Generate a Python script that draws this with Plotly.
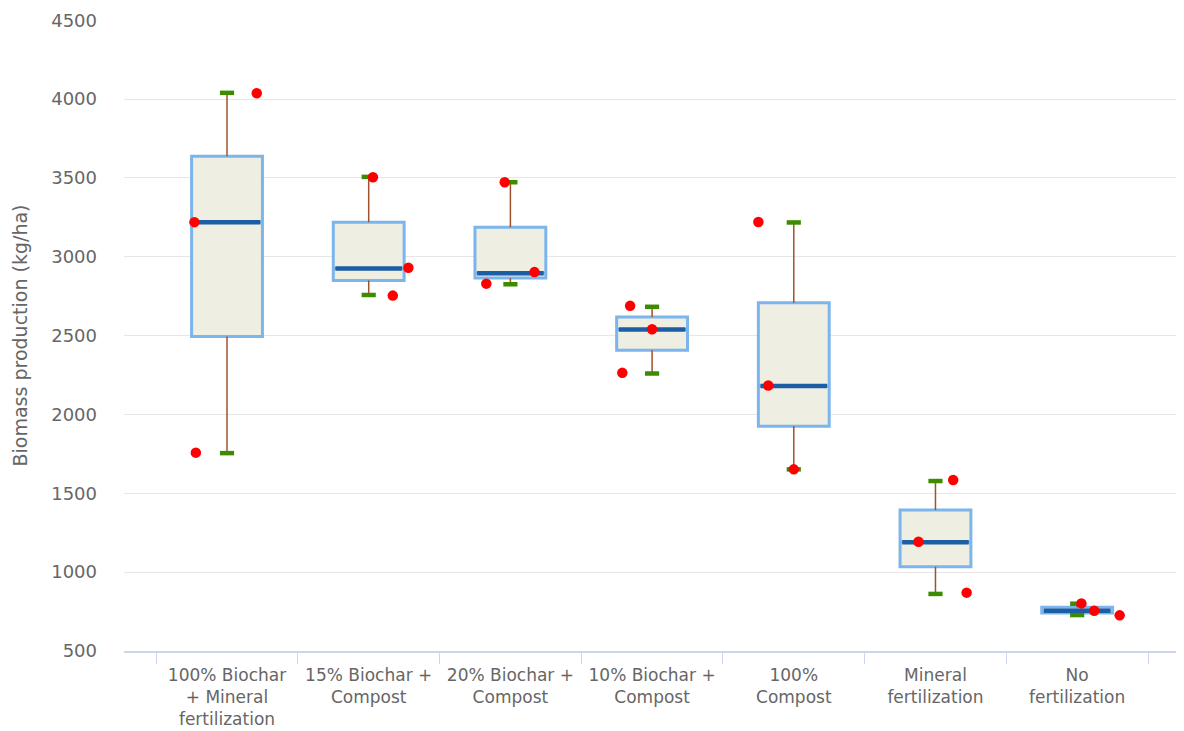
import plotly.graph_objects as go

# ---- data ----
categories = ["100% Biochar<br>+ Mineral<br>fertilization", "15% Biochar +<br>Compost",
              "20% Biochar +<br>Compost", "10% Biochar +<br>Compost", "100%<br>Compost",
              "Mineral<br>fertilization", "No<br>fertilization"]
low = [1755, 2758, 2826, 2260, 1652, 862, 728]
q1 = [2495, 2850, 2865, 2408, 1925, 1035, 741]
median = [3220, 2926, 2896, 2539, 2180, 1189, 755]
q3 = [3638, 3220, 3188, 2619, 2708, 1394, 778]
high = [4040, 3507, 3473, 2683, 3218, 1578, 800]
observations = [[4037, 3220, 1758], [3505, 2931, 2754], [3473, 2903, 2830],
                [2689, 2541, 2264], [3221, 2184, 1652], [1584, 1193, 870],
                [802, 755, 726]]
y_ticks = [500, 1000, 1500, 2000, 2500, 3000, 3500, 4000, 4500]

# ---- layout constants (positions / styles) ----
jitter = [[0.21, -0.23, -0.22], [0.03, 0.28, 0.17], [-0.04, 0.17, -0.17],
          [-0.155, 0.0, -0.21], [-0.25, -0.18, 0.0], [0.125, -0.12, 0.22],
          [0.03, 0.12, 0.30]]
BOX_W = 0.5
CAP_HALF = 0.05
MED_HALF = 0.235

xs = list(range(len(categories)))
fig = go.Figure()

fig.add_trace(go.Box(
    x=xs, q1=q1, median=median, q3=q3, lowerfence=q1, upperfence=q3,
    width=BOX_W, fillcolor="#EEEEE2",
    line=dict(color="#7CB5EC", width=3), hoverinfo="skip", showlegend=False,
))

# whisker stems
sx, sy = [], []
for i in xs:
    sx += [i, i, None, i, i, None]
    sy += [q3[i], high[i], None, q1[i], low[i], None]
fig.add_trace(go.Scatter(x=sx, y=sy, mode="lines", line=dict(color="#A0522D", width=1.5),
                         hoverinfo="skip", showlegend=False))

# whisker caps
cx, cy = [], []
for i in xs:
    cx += [i - CAP_HALF, i + CAP_HALF, None, i - CAP_HALF, i + CAP_HALF, None]
    cy += [high[i], high[i], None, low[i], low[i], None]
fig.add_trace(go.Scatter(x=cx, y=cy, mode="lines", line=dict(color="#3D8C00", width=4.5),
                         hoverinfo="skip", showlegend=False))

# medians
mx, my = [], []
for i in xs:
    mx += [i - MED_HALF, i + MED_HALF, None]
    my += [median[i], median[i], None]
fig.add_trace(go.Scatter(x=mx, y=my, mode="lines", line=dict(color="#1B5EA3", width=4.5),
                         hoverinfo="skip", showlegend=False))

# observations
px, py = [], []
for i in xs:
    for v, j in zip(observations[i], jitter[i]):
        px.append(i + j)
        py.append(v)
fig.add_trace(go.Scatter(x=px, y=py, mode="markers",
                         marker=dict(color="#FF0000", size=10.5, line=dict(width=0)),
                         showlegend=False))

fig.update_layout(
    width=1176, height=723,
    margin=dict(l=116, r=0, t=12, b=80),
    paper_bgcolor="white", plot_bgcolor="white",
    font=dict(family="DejaVu Sans", color="#666666"),
    xaxis=dict(
        range=[-0.727, 6.754], tickmode="array", tickvals=xs, ticktext=categories,
        ticks="", showgrid=False, zeroline=False,
        showline=True, linecolor="#CCD6EB", linewidth=1.5,
        tickfont=dict(family="DejaVu Sans", size=17, color="#666666"),
        ticklabelstandoff=8,
        minor=dict(tickmode="array", tickvals=[i - 0.5 for i in range(len(categories) + 1)],
                   ticks="outside", ticklen=11, tickcolor="#CCD6EB", tickwidth=1, showgrid=False),
    ),
    yaxis=dict(
        range=[500, 4502], tickmode="array", tickvals=y_ticks,
        ticks="", showgrid=True, gridcolor="#E6E6E6", gridwidth=1, zeroline=False,
        showline=False,
        tickfont=dict(family="DejaVu Sans", size=18, color="#666666"),
        ticklabelstandoff=26,
        title=dict(text="Biomass production (kg/ha)", standoff=18,
                   font=dict(family="DejaVu Sans", size=19, color="#666666")),
    ),
)

fig.write_html("out.html")
